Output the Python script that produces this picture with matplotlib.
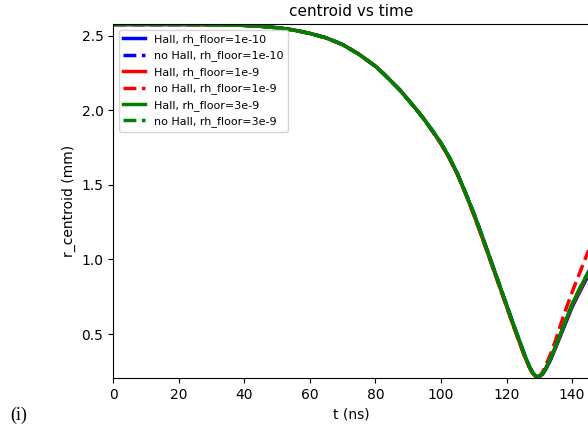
import numpy as np
import matplotlib
matplotlib.use('Agg')
import matplotlib.pyplot as plt

# time samples (ns), descending part up to the bounce
t_fall = [0, 10, 20, 30, 40, 45, 50, 55, 60, 65, 70, 75, 80, 82.5, 85, 87.5,
          90, 92.5, 95, 97.5, 100, 102.5, 105, 107.5, 110, 112.5, 115, 117.5,
          120, 122, 124, 125.5, 127, 128, 129, 130]
# rebound part
t_rise = [131, 132, 133.5, 135, 137.5, 140, 142.5, 145]

# r_centroid (mm), shared descending part (runs overlap here)
fall = [2.575, 2.575, 2.575, 2.574, 2.569, 2.563, 2.553, 2.538, 2.515, 2.485,
        2.44, 2.375, 2.295, 2.245, 2.19, 2.135, 2.07, 2.005, 1.935, 1.86,
        1.78, 1.685, 1.575, 1.445, 1.31, 1.16, 1.005, 0.85, 0.695, 0.57,
        0.45, 0.36, 0.28, 0.24, 0.215, 0.215]
fall_red = [2.575, 2.575, 2.575, 2.574, 2.569, 2.563, 2.553, 2.538, 2.515, 2.485,
            2.44, 2.375, 2.295, 2.245, 2.19, 2.135, 2.07, 2.005, 1.935, 1.855,
            1.775, 1.68, 1.57, 1.44, 1.30, 1.15, 0.995, 0.84, 0.685, 0.56,
            0.44, 0.35, 0.275, 0.235, 0.212, 0.215]

rise_hall_1e10 = [0.23, 0.265, 0.33, 0.41, 0.545, 0.68, 0.79, 0.895]
rise_nohall_1e10 = [0.235, 0.27, 0.335, 0.415, 0.55, 0.69, 0.80, 0.905]
rise_hall_1e9 = [0.235, 0.27, 0.34, 0.415, 0.555, 0.69, 0.80, 0.91]
rise_nohall_1e9 = [0.245, 0.29, 0.37, 0.46, 0.63, 0.78, 0.92, 1.06]
rise_hall_3e9 = [0.235, 0.27, 0.34, 0.42, 0.56, 0.70, 0.81, 0.92]
rise_nohall_3e9 = [0.235, 0.27, 0.34, 0.42, 0.56, 0.70, 0.815, 0.915]

t = t_fall + t_rise
runs = [
    ('Hall, rh_floor=1e-10', 'b', '-', fall + rise_hall_1e10),
    ('no Hall, rh_floor=1e-10', 'b', '--', fall + rise_nohall_1e10),
    ('Hall, rh_floor=1e-9', 'r', '-', fall_red + rise_hall_1e9),
    ('no Hall, rh_floor=1e-9', 'r', '--', fall_red + rise_nohall_1e9),
    ('Hall, rh_floor=3e-9', 'g', '-', fall + rise_hall_3e9),
    ('no Hall, rh_floor=3e-9', 'g', '--', fall + rise_nohall_3e9),
]

fig = plt.figure(figsize=(5.88, 4.28), dpi=100)
ax = fig.add_axes([0.1925, 0.1168, 0.81, 0.8271])

for label, c, ls, r in runs:
    ax.plot(t, r, color=c, linestyle=ls, linewidth=2.5, label=label)

ax.set_xlim(0, 145.3)
ax.set_ylim(0.205, 2.578)
ax.set_xlabel('t (ns)')
ax.set_ylabel('r_centroid (mm)')
ax.set_title('centroid vs time', fontsize=11)
ax.legend(loc='upper left', fontsize=8)

fig.text(0.017, 0.03, '(i)', family='Liberation Serif', fontsize=13, va='center')

plt.savefig('out.png', dpi=100)
